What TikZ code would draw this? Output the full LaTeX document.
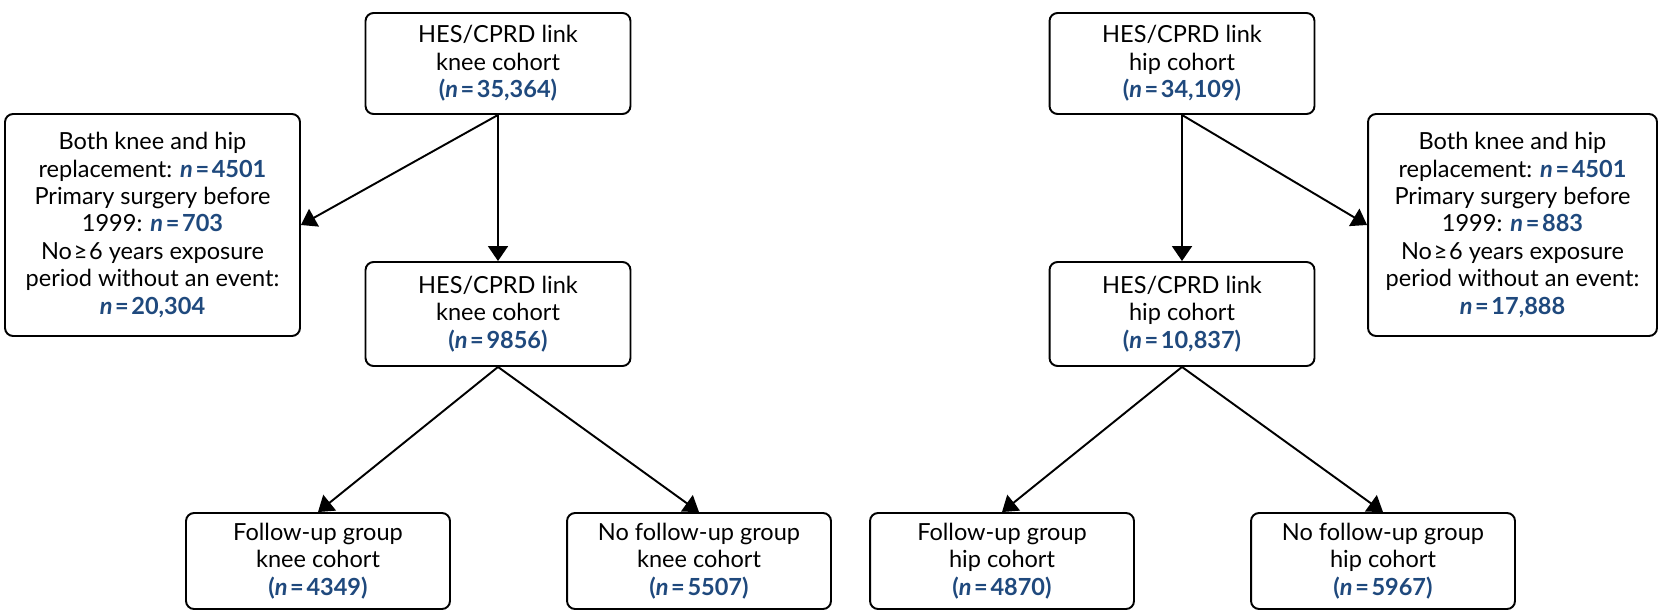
\documentclass[tikz,border=0pt]{standalone}
\usepackage{fontspec}
\setmainfont{Lato}
\usetikzlibrary{arrows.meta}
\definecolor{nblue}{RGB}{31,73,125}
\newcommand{\nval}[1]{\textcolor{nblue}{\textbf{\textit{n}\kern1.5pt=\kern1.5pt#1}}}
\newcommand{\npar}[1]{\textcolor{nblue}{\textbf{(\textit{n}\kern1.5pt=\kern1.5pt#1)}}}
\begin{document}
\begin{tikzpicture}[x=0.02cm,y=-0.02cm]
    \tikzstyle{every node}+=[inner sep=0pt, align=center, font=\fontsize{13.4}{15.6}\selectfont]
    \tikzstyle{box}=[draw, line width=1.1pt, rounded corners=0.16cm, minimum width=5.3cm, minimum height=2.02cm]
    \tikzstyle{link}=[line width=1.1pt, -{Triangle[length=0.3cm,width=0.4cm]}]
    \useasboundingbox (0,0) rectangle (1662,611);
    % knee cohort
    \node [box] (knee0) at (498,63.5) {HES/CPRD link\\knee cohort\\\npar{35,364}};
    \node [box, minimum width=5.9cm, minimum height=4.44cm] (kneeout) at (152.5,225)
      {Both knee and hip\\replacement: \nval{4501}\\Primary surgery before\\1999: \nval{703}\\No\kern1pt≥\kern1pt6 years exposure\\period without an event:\\\nval{20,304}};
    \node [box, minimum height=2.08cm] (knee1) at (498,314) {HES/CPRD link\\knee cohort\\\npar{9856}};
    \node [box, minimum width=5.28cm, minimum height=1.92cm] (kneefu) at (318,561) {Follow-up group\\knee cohort\\\npar{4349}};
    \node [box, minimum width=5.28cm, minimum height=1.92cm] (kneenofu) at (699,561) {No follow-up group\\knee cohort\\\npar{5507}};
    \draw [link] (knee0.south) -- (knee1.north);
    \draw [link] (knee0.south) -- (kneeout.east);
    \draw [link] (knee1.south) -- (kneefu.north);
    \draw [link] (knee1.south) -- (kneenofu.north);
    % hip cohort
    \node [box] (hip0) at (1182,63.5) {HES/CPRD link\\hip cohort\\\npar{34,109}};
    \node [box, minimum width=5.78cm, minimum height=4.44cm] (hipout) at (1512.5,225)
      {Both knee and hip\\replacement: \nval{4501}\\Primary surgery before\\1999: \nval{883}\\No\kern1pt≥\kern1pt6 years exposure\\period without an event:\\\nval{17,888}};
    \node [box, minimum height=2.08cm] (hip1) at (1182,314) {HES/CPRD link\\hip cohort\\\npar{10,837}};
    \node [box, minimum width=5.28cm, minimum height=1.92cm] (hipfu) at (1002,561) {Follow-up group\\hip cohort\\\npar{4870}};
    \node [box, minimum width=5.28cm, minimum height=1.92cm] (hipnofu) at (1383,561) {No follow-up group\\hip cohort\\\npar{5967}};
    \draw [link] (hip0.south) -- (hip1.north);
    \draw [link] (hip0.south) -- (hipout.west);
    \draw [link] (hip1.south) -- (hipfu.north);
    \draw [link] (hip1.south) -- (hipnofu.north);
\end{tikzpicture}
\end{document}
